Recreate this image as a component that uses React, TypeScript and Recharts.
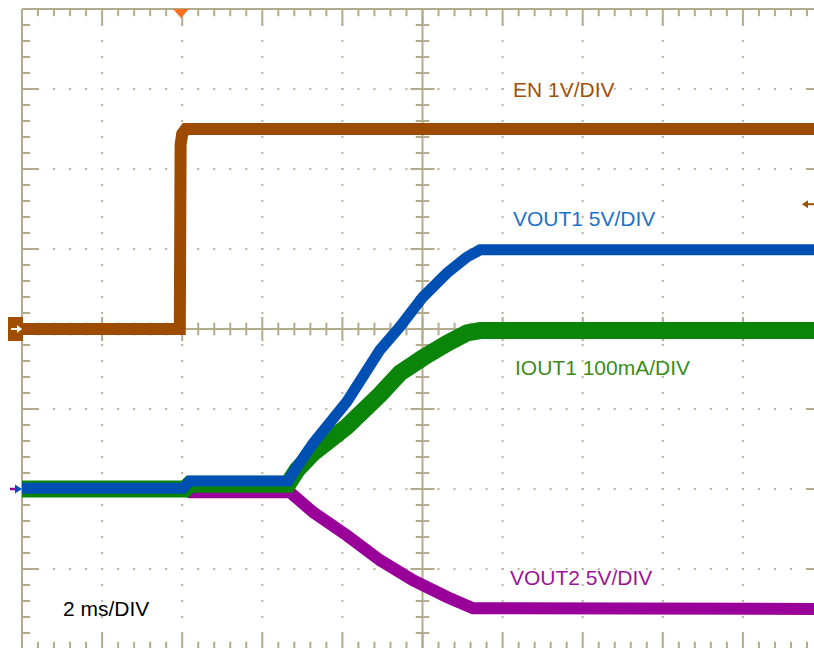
import React from 'react';
import { ComposedChart, Line, XAxis, YAxis, ReferenceLine, ReferenceDot } from 'recharts';

// time in ms (2 ms/div), level in screen divisions (each channel has its own V/DIV)
const EN_MS = [0, 3.94, 3.96, 4.0, 4.09, 20];
const EN_DIV = [0, 0, 2.3, 2.44, 2.5, 2.5];

const VOUT1_MS = [0, 4.02, 4.19, 6.64, 6.87, 7.27, 8.11, 8.94, 9.44, 10.01, 10.61, 11.11, 11.44, 20];
const VOUT1_DIV = [-1.99, -1.99, -1.9, -1.9, -1.72, -1.43, -0.91, -0.26, 0.03, 0.4, 0.7, 0.9, 0.99, 0.99];

const IOUT1_MS = [0, 4.07, 4.19, 6.64, 6.87, 7.27, 8.11, 8.94, 9.44, 10.01, 10.61, 11.11, 11.44, 20];
const IOUT1_DIV = [-2.0, -2.0, -1.94, -1.94, -1.76, -1.55, -1.22, -0.82, -0.55, -0.36, -0.18, -0.05, -0.02, -0.02];

const VOUT2_MS = [0, 4.07, 4.2, 6.69, 7.27, 8.11, 8.94, 9.76, 10.61, 11.26, 20];
const VOUT2_DIV = [-2.0, -2.0, -2.04, -2.04, -2.29, -2.58, -2.89, -3.14, -3.35, -3.49, -3.5];

const TRIGGER_MS = 3.97;
const TRIGGER_LEVEL = 1.56;

const LABELS = [
  { text: 'EN 1V/DIV', left: 513, top: 79, color: '#a0500a' },
  { text: 'VOUT1 5V/DIV', left: 513, top: 208, color: '#1a72c8' },
  { text: 'IOUT1 100mA/DIV', left: 515, top: 357, color: '#3c8c1c' },
  { text: 'VOUT2 5V/DIV', left: 510, top: 567, color: '#9b159b' },
  { text: '2 ms/DIV', left: 63, top: 598, color: '#000000' },
];

const GRID = '#b3ab8b';
const DOTS = '#bab39a';

const rows = (t: number[], v: number[]) => t.map((x, i) => ({ t: x, v: v[i] }));

const X_MAJOR = [2, 4, 6, 8, 12, 14, 16, 18];
const Y_MAJOR = [-3, -2, -1, 1, 2, 3];
const X_MINOR = Array.from({ length: 49 }, (_, i) => +((i + 1) * 0.4).toFixed(2));
const Y_MINOR = Array.from({ length: 39 }, (_, i) => +(-4 + (i + 1) * 0.2).toFixed(2));

const isMajorX = (t: number) => Math.abs(t / 2 - Math.round(t / 2)) < 1e-6;
const isMajorY = (d: number) => Math.abs(d - Math.round(d)) < 1e-6;

function tickSegments() {
  const segs: { a: { x: number; y: number }; b: { x: number; y: number } }[] = [];
  X_MINOR.forEach((t) => {
    const len = isMajorX(t) ? 0.2 : 0.09;
    const c = isMajorX(t) ? 0.15 : 0.08;
    segs.push({ a: { x: t, y: 4 }, b: { x: t, y: 4 - len } });
    segs.push({ a: { x: t, y: -4 }, b: { x: t, y: -4 + len } });
    segs.push({ a: { x: t, y: -c }, b: { x: t, y: c } });
  });
  Y_MINOR.forEach((d) => {
    const len = isMajorY(d) ? 0.42 : 0.2;
    const c = isMajorY(d) ? 0.3 : 0.17;
    segs.push({ a: { x: 0, y: d }, b: { x: len, y: d } });
    segs.push({ a: { x: 20, y: d }, b: { x: 20 - len, y: d } });
    segs.push({ a: { x: 10 - c, y: d }, b: { x: 10 + c, y: d } });
  });
  return segs;
}

export default function App() {
  const segs = tickSegments();
  return (
    <div style={{ position: 'fixed', left: 0, top: 0, width: 814, height: 648, overflow: 'hidden', background: '#fff' }}>
      <ComposedChart width={828} height={660} margin={{ top: 9, right: 5, bottom: 11, left: 22 }}>
        <XAxis type="number" dataKey="t" domain={[0, 20]} hide allowDataOverflow />
        <YAxis type="number" domain={[-4, 4]} hide allowDataOverflow />

        {X_MAJOR.map((t) => (
          <ReferenceLine key={'gx' + t} x={t} stroke={DOTS} strokeWidth={2} strokeDasharray="2 14" strokeDashoffset={1} />
        ))}
        {Y_MAJOR.map((d) => (
          <ReferenceLine key={'gy' + d} y={d} stroke={DOTS} strokeWidth={2} strokeDasharray="2 14.02" strokeDashoffset={1} />
        ))}
        <ReferenceLine x={0} stroke={GRID} strokeWidth={2} />
        <ReferenceLine x={20} stroke={GRID} strokeWidth={2} />
        <ReferenceLine y={4} stroke={GRID} strokeWidth={2} />
        <ReferenceLine y={-4} stroke={GRID} strokeWidth={2} />
        <ReferenceLine x={10} stroke={GRID} strokeWidth={2} />
        <ReferenceLine y={0} stroke={GRID} strokeWidth={2} />
        {segs.map((s, i) => (
          <ReferenceLine key={'tk' + i} segment={[s.a, s.b]} stroke={GRID} strokeWidth={2} ifOverflow="visible" />
        ))}

        <Line data={rows(EN_MS, EN_DIV)} dataKey="v" type="linear" stroke="#9c4b00" strokeWidth={12} strokeLinejoin="miter" dot={false} isAnimationActive={false} />
        <Line data={rows(VOUT2_MS, VOUT2_DIV)} dataKey="v" type="linear" stroke="#990099" strokeWidth={12} dot={false} isAnimationActive={false} />
        <Line data={rows(IOUT1_MS, IOUT1_DIV)} dataKey="v" type="linear" stroke="#0a850a" strokeWidth={17} dot={false} isAnimationActive={false} />
        <Line data={rows(VOUT1_MS, VOUT1_DIV)} dataKey="v" type="linear" stroke="#0050b4" strokeWidth={11} dot={false} isAnimationActive={false} />

        <ReferenceDot
          x={TRIGGER_MS}
          y={4}
          ifOverflow="visible"
          shape={(p: any) => (
            <polygon points={`${p.cx - 8},${p.cy} ${p.cx + 8},${p.cy} ${p.cx},${p.cy + 9}`} fill="#ff7020" />
          )}
        />
        <ReferenceDot
          x={0}
          y={0}
          ifOverflow="visible"
          shape={(p: any) => (
            <g>
              <rect x={p.cx - 14} y={p.cy - 12} width={15} height={24} fill="#a04f00" />
              <line x1={p.cx - 11} y1={p.cy} x2={p.cx - 4} y2={p.cy} stroke="#fff" strokeWidth={2} />
              <polygon points={`${p.cx - 5},${p.cy - 4} ${p.cx},${p.cy} ${p.cx - 5},${p.cy + 4}`} fill="#fff" />
            </g>
          )}
        />
        <ReferenceDot
          x={0}
          y={-2}
          ifOverflow="visible"
          shape={(p: any) => (
            <g>
              <line x1={p.cx - 12} y1={p.cy} x2={p.cx - 5} y2={p.cy} stroke="#990099" strokeWidth={2.5} />
              <polygon points={`${p.cx - 7},${p.cy - 4.5} ${p.cx},${p.cy} ${p.cx - 7},${p.cy + 4.5}`} fill="#0050b4" />
            </g>
          )}
        />
        <ReferenceDot
          x={20}
          y={TRIGGER_LEVEL}
          ifOverflow="visible"
          shape={(p: any) => (
            <g>
              <line x1={p.cx - 18} y1={p.cy} x2={p.cx - 6} y2={p.cy} stroke="#a04f00" strokeWidth={2} />
              <polygon points={`${p.cx - 15},${p.cy - 4} ${p.cx - 21},${p.cy} ${p.cx - 15},${p.cy + 4}`} fill="#a04f00" />
            </g>
          )}
        />
      </ComposedChart>

      {LABELS.map((l) => (
        <div
          key={l.text}
          style={{
            position: 'absolute',
            left: l.left,
            top: l.top,
            color: l.color,
            fontFamily: 'Arial, "Liberation Sans", sans-serif',
            fontSize: 21,
            lineHeight: '21px',
            whiteSpace: 'nowrap',
          }}
        >
          {l.text}
        </div>
      ))}
    </div>
  );
}
